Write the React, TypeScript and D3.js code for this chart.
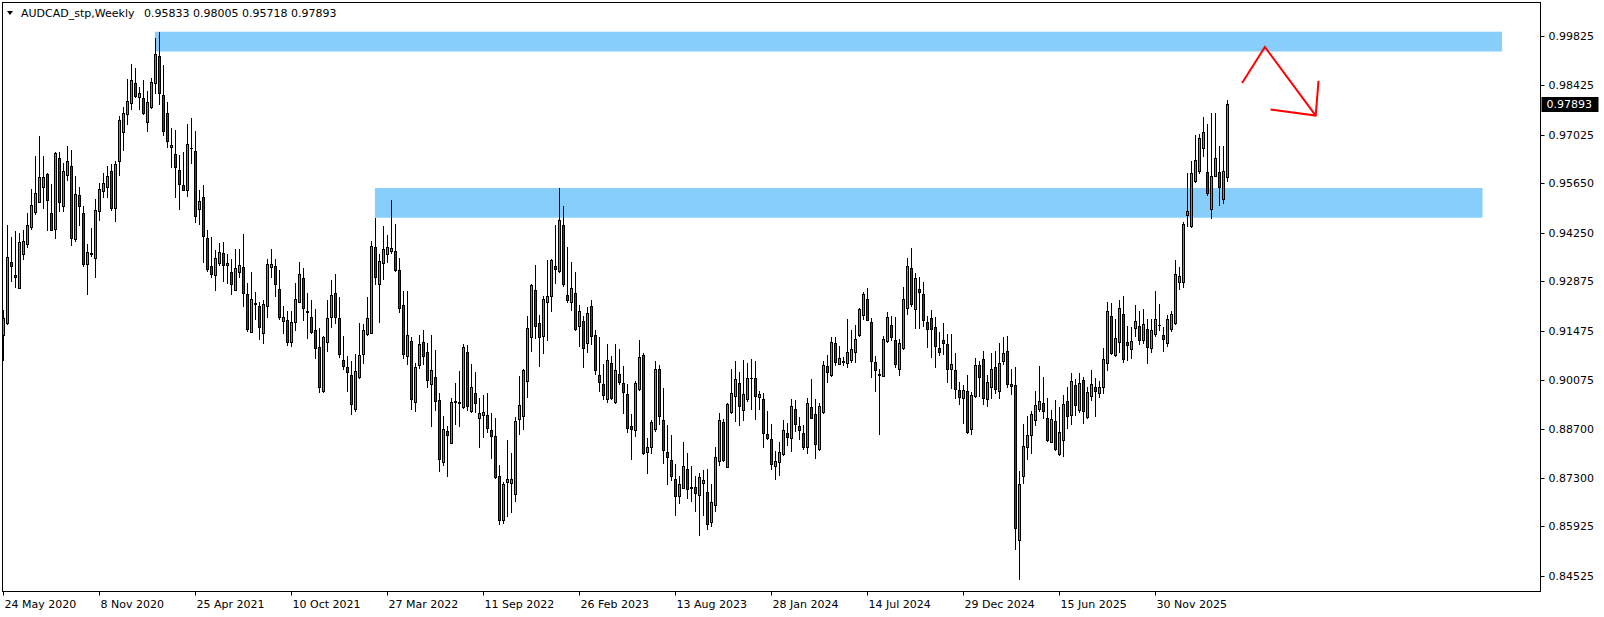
import React from 'react';
import * as d3 from 'd3';

// weekly AUDCAD bars, first bar = week of 24 May 2020
const opens = [
  0.9135,0.9170,0.9341,0.9305,0.9269,0.9365,0.9394,0.9440,0.9482,0.9511,
  0.9555,0.9591,0.9480,0.9436,0.9635,0.9501,0.9587,0.9613,0.9408,0.9531,
  0.9480,0.9335,0.9367,0.9352,0.9485,0.9544,0.9554,0.9600,0.9496,0.9629,
  0.9709,0.9762,0.9793,0.9848,0.9810,0.9805,0.9737,0.9782,0.9850,0.9925,
  0.9814,0.9765,0.9667,0.9647,0.9602,0.9560,0.9547,0.9666,0.9656,0.9491,
  0.9526,0.9410,0.9330,0.9304,0.9338,0.9366,0.9332,0.9313,0.9263,0.9314,
  0.9327,0.9251,0.9144,0.9226,0.9216,0.9140,0.9217,0.9327,0.9330,0.9264,
  0.9174,0.9177,0.9116,0.9171,0.9229,0.9296,0.9202,0.9186,0.9149,0.9100,
  0.8977,0.9114,0.9187,0.9253,0.9183,0.9063,0.9043,0.9021,0.8924,0.9017,
  0.9080,0.9137,0.9142,0.9383,0.9278,0.9338,0.9364,0.9372,0.9372,0.9318,
  0.9219,0.9075,0.9117,0.8946,0.9049,0.9114,0.9086,0.8995,0.9015,0.8950,
  0.8774,0.8862,0.8830,0.8946,0.8945,0.8932,0.9086,0.8921,0.8970,0.8901,
  0.8909,0.8908,0.8866,0.8849,0.8735,0.8612,0.8719,0.8717,0.8685,0.8896,
  0.8905,0.9004,0.9128,0.9261,0.9168,0.9133,0.9227,0.9244,0.9329,0.9317,
  0.9446,0.9247,0.9228,0.9253,0.9161,0.9174,0.9113,0.9217,0.9134,0.9022,
  0.8996,0.8954,0.9055,0.8945,0.9024,0.8998,0.8967,0.8876,0.8865,0.8982,
  0.9078,0.8803,0.8817,0.8868,0.9039,0.8894,0.8803,0.8780,0.8726,0.8678,
  0.8702,0.8755,0.8704,0.8704,0.8681,0.8715,0.8689,0.8606,0.8652,0.8777,
  0.8889,0.8762,0.8916,0.8963,0.8998,0.8922,0.8953,0.9014,0.9012,0.8960,
  0.8954,0.8854,0.8839,0.8765,0.8776,0.8798,0.8857,0.8842,0.8925,0.8877,
  0.8856,0.8817,0.8930,0.8910,0.8813,0.8916,0.9046,0.9021,0.9112,0.9054,
  0.9060,0.9056,0.9065,0.9086,0.9134,0.9191,0.9237,0.9172,0.9058,0.9024,
  0.9020,0.9118,0.9163,0.9120,0.9038,0.9097,0.9211,0.9325,0.9209,0.9265,
  0.9251,0.9172,0.9182,0.9157,0.9097,0.9121,0.9109,0.9040,0.9035,0.8979,
  0.8956,0.8976,0.8868,0.8963,0.9050,0.9066,0.8953,0.8989,0.9044,0.8975,
  0.9061,0.9090,0.8995,0.8992,0.8555,0.8735,0.8818,0.8851,0.8893,0.8926,
  0.8941,0.8900,0.8833,0.8890,0.8797,0.8837,0.8948,0.8909,0.8993,0.8922,
  0.9007,0.8904,0.8961,0.8988,0.8970,0.8987,0.9055,0.9188,0.9079,0.9114,
  0.9194,0.9115,0.9094,0.9154,0.9160,0.9120,0.9151,0.9097,0.9137,0.9164,
  0.9134,0.9111,0.9151,0.9168,0.9284,0.9284,0.9476,0.9445,0.9570,0.9600,
  0.9666,0.9596,0.9491,0.9586,0.9596,0.9519,0.95833,
];

const highs = [
  0.9206,0.9447,0.9413,0.9430,0.9423,0.9432,0.9480,0.9549,0.9642,0.9699,
  0.9642,0.9595,0.9563,0.9654,0.9653,0.9623,0.9670,0.9659,0.9585,0.9553,
  0.9500,0.9393,0.9438,0.9519,0.9566,0.9593,0.9614,0.9618,0.9628,0.9755,
  0.9781,0.9860,0.9902,0.9890,0.9837,0.9857,0.9826,0.9864,0.9975,0.9994,
  0.9900,0.9795,0.9721,0.9716,0.9645,0.9653,0.9733,0.9750,0.9713,0.9546,
  0.9559,0.9432,0.9413,0.9376,0.9396,0.9398,0.9364,0.9349,0.9379,0.9379,
  0.9421,0.9282,0.9313,0.9258,0.9229,0.9234,0.9349,0.9379,0.9349,0.9319,
  0.9217,0.9203,0.9203,0.9282,0.9342,0.9326,0.9254,0.9234,0.9209,0.9154,
  0.9133,0.9234,0.9291,0.9308,0.9243,0.9132,0.9075,0.9060,0.9082,0.9168,
  0.9165,0.9243,0.9401,0.9466,0.9364,0.9444,0.9418,0.9517,0.9449,0.9352,
  0.9259,0.9259,0.9128,0.9057,0.9135,0.9148,0.9111,0.9135,0.9092,0.8970,
  0.8905,0.8876,0.8956,0.8998,0.9034,0.9110,0.9107,0.9053,0.9030,0.8956,
  0.8964,0.8971,0.8913,0.8900,0.8768,0.8719,0.8838,0.8802,0.8902,0.9019,
  0.9040,0.9189,0.9279,0.9333,0.9191,0.9244,0.9347,0.9351,0.9447,0.9551,
  0.9500,0.9383,0.9341,0.9313,0.9220,0.9190,0.9213,0.9235,0.9149,0.9129,
  0.9052,0.9109,0.9076,0.9109,0.9096,0.9047,0.8995,0.8911,0.9005,0.9121,
  0.9084,0.8843,0.8895,0.9060,0.9051,0.8985,0.8881,0.8852,0.8770,0.8736,
  0.8832,0.8802,0.8764,0.8736,0.8745,0.8753,0.8754,0.8712,0.8819,0.8913,
  0.8898,0.8943,0.9039,0.9062,0.9029,0.9064,0.9056,0.9067,0.9060,0.8977,
  0.8970,0.8920,0.8882,0.8805,0.8831,0.8894,0.8886,0.8954,0.8952,0.8904,
  0.8879,0.8956,0.9010,0.8954,0.8943,0.9061,0.9079,0.9129,0.9129,0.9105,
  0.9074,0.9180,0.9149,0.9164,0.9212,0.9257,0.9268,0.9184,0.9075,0.9038,
  0.9132,0.9199,0.9188,0.9186,0.9123,0.9271,0.9353,0.9381,0.9310,0.9300,
  0.9285,0.9189,0.9205,0.9185,0.9144,0.9168,0.9138,0.9138,0.9085,0.9003,
  0.8993,0.9022,0.8973,0.9069,0.9061,0.9090,0.9022,0.9083,0.9090,0.9113,
  0.9130,0.9132,0.9038,0.9045,0.8750,0.8883,0.8905,0.8921,0.8975,0.9047,
  0.9017,0.8956,0.8922,0.8951,0.8930,0.8965,0.8987,0.9026,0.9011,0.9026,
  0.9016,0.8987,0.9036,0.9012,0.9005,0.9097,0.9229,0.9225,0.9180,0.9234,
  0.9245,0.9160,0.9158,0.9220,0.9204,0.9208,0.9179,0.9180,0.9260,0.9223,
  0.9159,0.9191,0.9203,0.9346,0.9328,0.9454,0.9593,0.9628,0.9702,0.9703,
  0.9753,0.9734,0.9763,0.9763,0.9670,0.9670,0.98005,
];

const lows = [
  0.9064,0.9165,0.9288,0.9272,0.9267,0.9349,0.9385,0.9434,0.9478,0.9511,
  0.9496,0.9433,0.9431,0.9411,0.9487,0.9487,0.9574,0.9390,0.9402,0.9447,
  0.9329,0.9250,0.9359,0.9300,0.9462,0.9525,0.9527,0.9489,0.9459,0.9589,
  0.9660,0.9734,0.9776,0.9808,0.9775,0.9762,0.9714,0.9779,0.9821,0.9789,
  0.9702,0.9667,0.9612,0.9527,0.9493,0.9547,0.9530,0.9621,0.9456,0.9448,
  0.9341,0.9317,0.9300,0.9261,0.9333,0.9289,0.9283,0.9250,0.9261,0.9298,
  0.9218,0.9147,0.9144,0.9179,0.9123,0.9113,0.9185,0.9298,0.9244,0.9180,
  0.9142,0.9107,0.9105,0.9149,0.9227,0.9177,0.9127,0.9140,0.9071,0.8974,
  0.8974,0.9091,0.9159,0.9170,0.9072,0.9040,0.8977,0.8910,0.8921,0.9012,
  0.9057,0.9134,0.9142,0.9278,0.9173,0.9293,0.9342,0.9366,0.9317,0.9201,
  0.9069,0.9052,0.8924,0.8921,0.9041,0.9052,0.8987,0.8878,0.8922,0.8749,
  0.8766,0.8735,0.8828,0.8882,0.8878,0.8929,0.8923,0.8916,0.8916,0.8819,
  0.8847,0.8861,0.8786,0.8731,0.8600,0.8601,0.8623,0.8634,0.8666,0.8854,
  0.8868,0.8960,0.9091,0.9126,0.9046,0.9083,0.9121,0.9204,0.9283,0.9314,
  0.9275,0.9228,0.9206,0.9149,0.9104,0.9045,0.9088,0.9109,0.9024,0.8977,
  0.8953,0.8946,0.8955,0.8943,0.8995,0.8913,0.8861,0.8785,0.8849,0.8979,
  0.8799,0.8745,0.8800,0.8864,0.8883,0.8773,0.8714,0.8724,0.8626,0.8658,
  0.8701,0.8672,0.8666,0.8635,0.8567,0.8626,0.8586,0.8595,0.8635,0.8768,
  0.8777,0.8760,0.8913,0.8892,0.8881,0.8893,0.8949,0.8926,0.8898,0.8924,
  0.8817,0.8839,0.8756,0.8726,0.8739,0.8795,0.8822,0.8806,0.8863,0.8840,
  0.8812,0.8802,0.8899,0.8786,0.8808,0.8914,0.9003,0.9018,0.9050,0.9052,
  0.9050,0.9045,0.9059,0.9058,0.9132,0.9179,0.9176,0.9017,0.8975,0.8855,
  0.9018,0.9116,0.9120,0.9043,0.9021,0.9094,0.9194,0.9217,0.9154,0.9154,
  0.9160,0.9102,0.9074,0.9045,0.9078,0.9080,0.9003,0.8986,0.8956,0.8939,
  0.8887,0.8856,0.8855,0.8958,0.8962,0.8939,0.8935,0.8957,0.8970,0.8957,
  0.9053,0.8989,0.8967,0.8530,0.8443,0.8715,0.8785,0.8800,0.8881,0.8921,
  0.8901,0.8835,0.8831,0.8808,0.8795,0.8793,0.8872,0.8883,0.8908,0.8918,
  0.8885,0.8899,0.8951,0.8905,0.8960,0.8970,0.9036,0.9080,0.9075,0.9088,
  0.9059,0.9063,0.9069,0.9133,0.9109,0.9112,0.9057,0.9088,0.9132,0.9149,
  0.9091,0.9104,0.9147,0.9166,0.9264,0.9272,0.9445,0.9442,0.9567,0.9595,
  0.9642,0.9531,0.9465,0.9584,0.9504,0.9510,0.95718,
];

const closes = [
  0.9182,0.9355,0.9331,0.9300,0.9397,0.9401,0.9446,0.9502,0.9536,0.9582,
  0.9582,0.9516,0.9432,0.9651,0.9513,0.9600,0.9627,0.9411,0.9533,0.9501,
  0.9336,0.9369,0.9363,0.9488,0.9548,0.9565,0.9585,0.9495,0.9618,0.9743,
  0.9763,0.9797,0.9856,0.9811,0.9820,0.9765,0.9794,0.9851,0.9930,0.9821,
  0.9714,0.9684,0.9673,0.9612,0.9562,0.9547,0.9675,0.9665,0.9473,0.9515,
  0.9416,0.9323,0.9309,0.9352,0.9369,0.9332,0.9338,0.9279,0.9324,0.9332,
  0.9253,0.9152,0.9236,0.9222,0.9157,0.9222,0.9336,0.9336,0.9279,0.9187,
  0.9185,0.9116,0.9172,0.9237,0.9308,0.9212,0.9199,0.9143,0.9097,0.8987,
  0.9128,0.9182,0.9247,0.9187,0.9080,0.9046,0.9029,0.8939,0.9034,0.9077,
  0.9148,0.9182,0.9386,0.9300,0.9344,0.9378,0.9383,0.9380,0.9320,0.9210,
  0.9080,0.9134,0.8955,0.9043,0.9109,0.9075,0.9007,0.9035,0.8947,0.8783,
  0.8868,0.8851,0.8944,0.8948,0.8942,0.9100,0.8935,0.8987,0.8941,0.8914,
  0.8917,0.8872,0.8850,0.8733,0.8612,0.8713,0.8726,0.8726,0.8891,0.8936,
  0.9037,0.9154,0.9277,0.9160,0.9128,0.9236,0.9244,0.9347,0.9323,0.9460,
  0.9278,0.9233,0.9267,0.9153,0.9202,0.9099,0.9196,0.9131,0.9037,0.9001,
  0.8964,0.9063,0.8956,0.9035,0.9003,0.8974,0.8872,0.8870,0.8999,0.9073,
  0.8802,0.8818,0.8889,0.9039,0.8906,0.8808,0.8790,0.8736,0.8678,0.8713,
  0.8763,0.8699,0.8702,0.8686,0.8733,0.8723,0.8599,0.8662,0.8788,0.8893,
  0.8780,0.8939,0.8971,0.9009,0.8933,0.8967,0.9014,0.9013,0.8963,0.8967,
  0.8858,0.8844,0.8770,0.8777,0.8803,0.8865,0.8847,0.8933,0.8882,0.8867,
  0.8819,0.8941,0.8901,0.8825,0.8933,0.9049,0.9029,0.9115,0.9058,0.9069,
  0.9058,0.9087,0.9094,0.9125,0.9209,0.9251,0.9178,0.9060,0.9035,0.9022,
  0.9125,0.9186,0.9130,0.9054,0.9112,0.9236,0.9330,0.9223,0.9296,0.9258,
  0.9176,0.9153,0.9151,0.9105,0.9088,0.9113,0.9039,0.9053,0.8981,0.8958,
  0.8979,0.8861,0.8964,0.9050,0.9017,0.8957,0.9002,0.9040,0.8981,0.9055,
  0.9083,0.8997,0.8991,0.8589,0.8713,0.8820,0.8851,0.8910,0.8936,0.8948,
  0.8921,0.8838,0.8897,0.8813,0.8859,0.8939,0.8906,0.9005,0.8936,0.8999,
  0.8919,0.8973,0.8996,0.8977,0.8987,0.9067,0.9202,0.9085,0.9126,0.9211,
  0.9066,0.9106,0.9117,0.9175,0.9122,0.9165,0.9102,0.9148,0.9179,0.9163,
  0.9123,0.9179,0.9194,0.9307,0.9301,0.9448,0.9485,0.9593,0.9630,0.9692,
  0.9709,0.9538,0.9584,0.9635,0.9553,0.9599,0.97893,
];

const priceTicks = ['0.99825', '0.98425', '0.97025', '0.95650', '0.94250', '0.92875',
  '0.91475', '0.90075', '0.88700', '0.87300', '0.85925', '0.84525'];

// time labels every 24 weeks, starting at bar 0
const dateTicks = ['24 May 2020', '8 Nov 2020', '25 Apr 2021', '10 Oct 2021', '27 Mar 2022',
  '11 Sep 2022', '26 Feb 2023', '13 Aug 2023', '28 Jan 2024', '14 Jul 2024', '29 Dec 2024',
  '15 Jun 2025', '30 Nov 2025'];

// rectangles drawn on the chart: [fromBar, toBar, topPrice, bottomPrice]
const zones = [
  [37.9, 374.7, 0.99941, 0.99380],
  [92.9, 369.8, 0.95513, 0.94672],
];

// hand-drawn red arrow, points as [bar, price]
const arrowPath = [[309.7, 0.98488], [315.4, 0.99508], [328.1, 0.97564]];
const arrowHead = [[316.8, 0.97737], [328.1, 0.97564], [328.8, 0.98550]];

const W = 1604;
const H = 617;
const FONT = "'DejaVu Sans', sans-serif";
const BULL = '#00e000';
const BEAR = '#e00000';

export default function App() {
  const x = d3.scaleLinear().domain([0, 306]).range([3.3, 1227.3]);
  const y = d3.scaleLinear().domain([0.84525, 0.99825]).range([575.9, 35.8]);
  const frameL = 2.5, frameT = 2.5, frameR = 1540.5, frameB = 591.5;
  const last = closes[closes.length - 1];
  const line = d3.line<number[]>().x(d => x(d[0])).y(d => y(d[1]));

  return (
    <svg width={W} height={H} style={{ position: 'absolute', left: 0, top: 0, background: '#fff' }}
      fontFamily={FONT} fontSize={11}>
      <rect x={0} y={0} width={W} height={H} fill="#fff" />

      {zones.map((z, i) => (
        <rect key={'z' + i} x={x(z[0])} y={y(z[2])} width={x(z[1]) - x(z[0])}
          height={y(z[3]) - y(z[2])} fill="#87cefa" />
      ))}

      {closes.map((c, i) => {
        const o = opens[i];
        const cx = Math.round(x(i));
        const yh = Math.round(y(highs[i]));
        const yl = Math.round(y(lows[i]));
        const yt = Math.round(y(Math.max(o, c)));
        const yb = Math.round(y(Math.min(o, c)));
        const tall = yb - yt >= 2;
        return (
          <g key={i}>
            <rect x={cx} y={yh} width={1} height={yl - yh + 1} fill="#000" />
            <rect x={cx - 1} y={yt} width={3} height={Math.max(1, yb - yt + 1)} fill="#000" />
            {tall && <rect x={cx} y={yt + 1} width={1} height={yb - yt - 1} fill={c >= o ? BULL : BEAR} />}
          </g>
        );
      })}

      <path d={line(arrowPath) || ''} fill="none" stroke="#ff0000" strokeWidth={2} />
      <path d={line(arrowHead) || ''} fill="none" stroke="#ff0000" strokeWidth={2} />

      {/* frame */}
      <rect x={frameL} y={frameT} width={frameR - frameL} height={frameB - frameT}
        fill="none" stroke="#000" strokeWidth={1} />

      {/* header */}
      <path d="M7,11 L13,11 L10,15 Z" fill="#000" />
      <text x={21} y={13.5} dominantBaseline="middle" fill="#000">AUDCAD_stp,Weekly</text>
      <text x={144} y={13.5} dominantBaseline="middle" fill="#000">
        {[opens, highs, lows, closes].map(a => a[a.length - 1].toFixed(5)).join(' ')}
      </text>

      {/* price axis */}
      {priceTicks.map(t => {
        const yy = Math.round(y(+t)) + 0.5;
        return (
          <g key={t}>
            <line x1={frameR} x2={frameR + 4} y1={yy} y2={yy} stroke="#000" />
            <text x={frameR + 8} y={yy} dominantBaseline="middle" fill="#000">{t}</text>
          </g>
        );
      })}
      <rect x={frameR + 1} y={Math.round(y(last)) - 7} width={57} height={15} fill="#000" />
      <text x={frameR + 6} y={Math.round(y(last)) + 0.5} dominantBaseline="middle" fill="#fff">
        {last.toFixed(5)}
      </text>

      {/* time axis */}
      {dateTicks.map((t, k) => {
        const xx = Math.round(x(k * 24)) + 0.5;
        return (
          <g key={t}>
            <line x1={xx} x2={xx} y1={frameB} y2={frameB + 4} stroke="#000" />
            <text x={xx + 1} y={604.5} dominantBaseline="middle" fill="#000">{t}</text>
          </g>
        );
      })}
    </svg>
  );
}
